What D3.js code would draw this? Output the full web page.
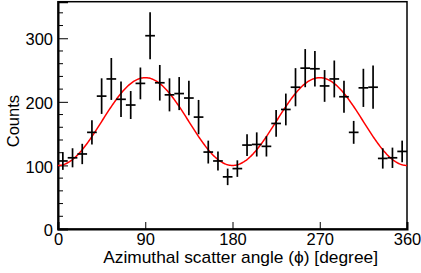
<!DOCTYPE html>
<html>
<head>
<meta charset="utf-8">
<script src="https://cdn.jsdelivr.net/npm/d3@7"></script>
<style>
html,body{margin:0;padding:0;background:#fff;}
svg{display:block;font-family:"Liberation Sans",Arial,Helvetica,sans-serif;}
</style>
</head>
<body>
<svg id="chart" width="421" height="273"></svg>
<script>
// ---- data ----
const binCenters = [5,15,25,35,45,55,65,75,85,95,105,115,125,135,145,155,165,175,
                    185,195,205,215,225,235,245,255,265,275,285,295,305,315,325,335,345,355];
const counts = [107,112,118,152,209,236,204,195,229,304,230,211,213,206,176,121,107,82,
                95,132,133,130,166,188,223,253,252,225,236,208,152,222,223,111,112,122];
const errors = [14,15,16,19,28,33,28,22,25,37,28,26,26,27,27,18,15,13,
                13,17,19,16,21,25,30,30,28,25,29,25,18,30,34,16,16,17];
const binWidth = 10;
const xTicks = [0,90,180,270,360];
const yMajorTicks = [0,100,200,300];
const yMinorTicks = [20,40,60,80,120,140,160,180,220,240,260,280,320,340];
// fit: A + B*cos(2*phi)
const fitA = 169, fitB = -69;
const xTitle = "Azimuthal scatter angle (\u03D5) [degree]";
const yTitle = "Counts";

// ---- layout ----
const svg = d3.select("#chart");
const L = 58, R = 407, T = 1.7, B = 229;
const x = d3.scaleLinear().domain([0,360]).range([L,R]);
const y = d3.scaleLinear().domain([0,357.5]).range([B,T]);

svg.append("rect").attr("width",421).attr("height",273).attr("fill","#fff");

// frame
svg.append("rect").attr("x",L).attr("y",T).attr("width",R-L).attr("height",B-T)
  .attr("fill","none").attr("stroke","#000").attr("stroke-width",1.5);

// y axis
const yAxis = d3.axisLeft(y).tickValues(yMajorTicks).tickSize(-10).tickPadding(5).tickFormat(d3.format("d"));
const gy = svg.append("g").attr("transform",`translate(${L},0)`).call(yAxis);
gy.select(".domain").attr("stroke-width",2);
gy.selectAll(".tick line").attr("stroke-width",1);
gy.selectAll(".tick text").attr("font-size",16.5).attr("font-family","Liberation Sans, Arial, sans-serif")
  .attr("x",-5).attr("dy","0.4em").attr("fill","#000");
svg.append("g").selectAll("line").data(yMinorTicks).join("line")
  .attr("x1",L).attr("x2",L+5).attr("y1",d=>y(d)).attr("y2",d=>y(d))
  .attr("stroke","#000").attr("stroke-width",1);

// x axis
const xAxis = d3.axisBottom(x).tickValues(xTicks).tickSize(-7).tickPadding(0).tickFormat(d3.format("d"));
const gx = svg.append("g").attr("transform",`translate(0,${B})`).call(xAxis);
gx.select(".domain").attr("stroke-width",2);
gx.selectAll(".tick line").attr("stroke-width",1);
gx.selectAll(".tick text").attr("font-size",16.5).attr("font-family","Liberation Sans, Arial, sans-serif")
  .attr("y",16).attr("dy",0).attr("fill","#000");

// fit curve
const curvePts = d3.range(0,360.5,1).map(p => [p, fitA + fitB*Math.cos(2*p*Math.PI/180)]);
svg.append("path").datum(curvePts)
  .attr("d", d3.line().x(d=>x(d[0])).y(d=>y(d[1])))
  .attr("fill","none").attr("stroke","#ff0000").attr("stroke-width",1.5);

// data crosses
const pts = binCenters.map((c,i)=>({c, v:counts[i], e:errors[i]}));
const g = svg.append("g").attr("stroke","#000").attr("stroke-width",1.7);
g.selectAll("line.v").data(pts).join("line").attr("class","v")
  .attr("x1",d=>x(d.c)).attr("x2",d=>x(d.c))
  .attr("y1",d=>y(d.v-d.e)).attr("y2",d=>y(d.v+d.e));
g.selectAll("line.h").data(pts).join("line").attr("class","h")
  .attr("x1",d=>x(d.c-binWidth/2)).attr("x2",d=>x(d.c+binWidth/2))
  .attr("y1",d=>y(d.v)).attr("y2",d=>y(d.v));

// titles
const xt = svg.append("text").attr("x",378).attr("y",263).attr("text-anchor","end")
  .attr("font-size",16).attr("fill","#000").text(xTitle);
const w = xt.node().getComputedTextLength();
xt.attr("font-size", 16*275/w);
svg.append("text").attr("transform","translate(19,95) rotate(-90)").attr("text-anchor","end")
  .attr("font-size",16.5).attr("fill","#000").text(yTitle);
</script>
</body>
</html>
